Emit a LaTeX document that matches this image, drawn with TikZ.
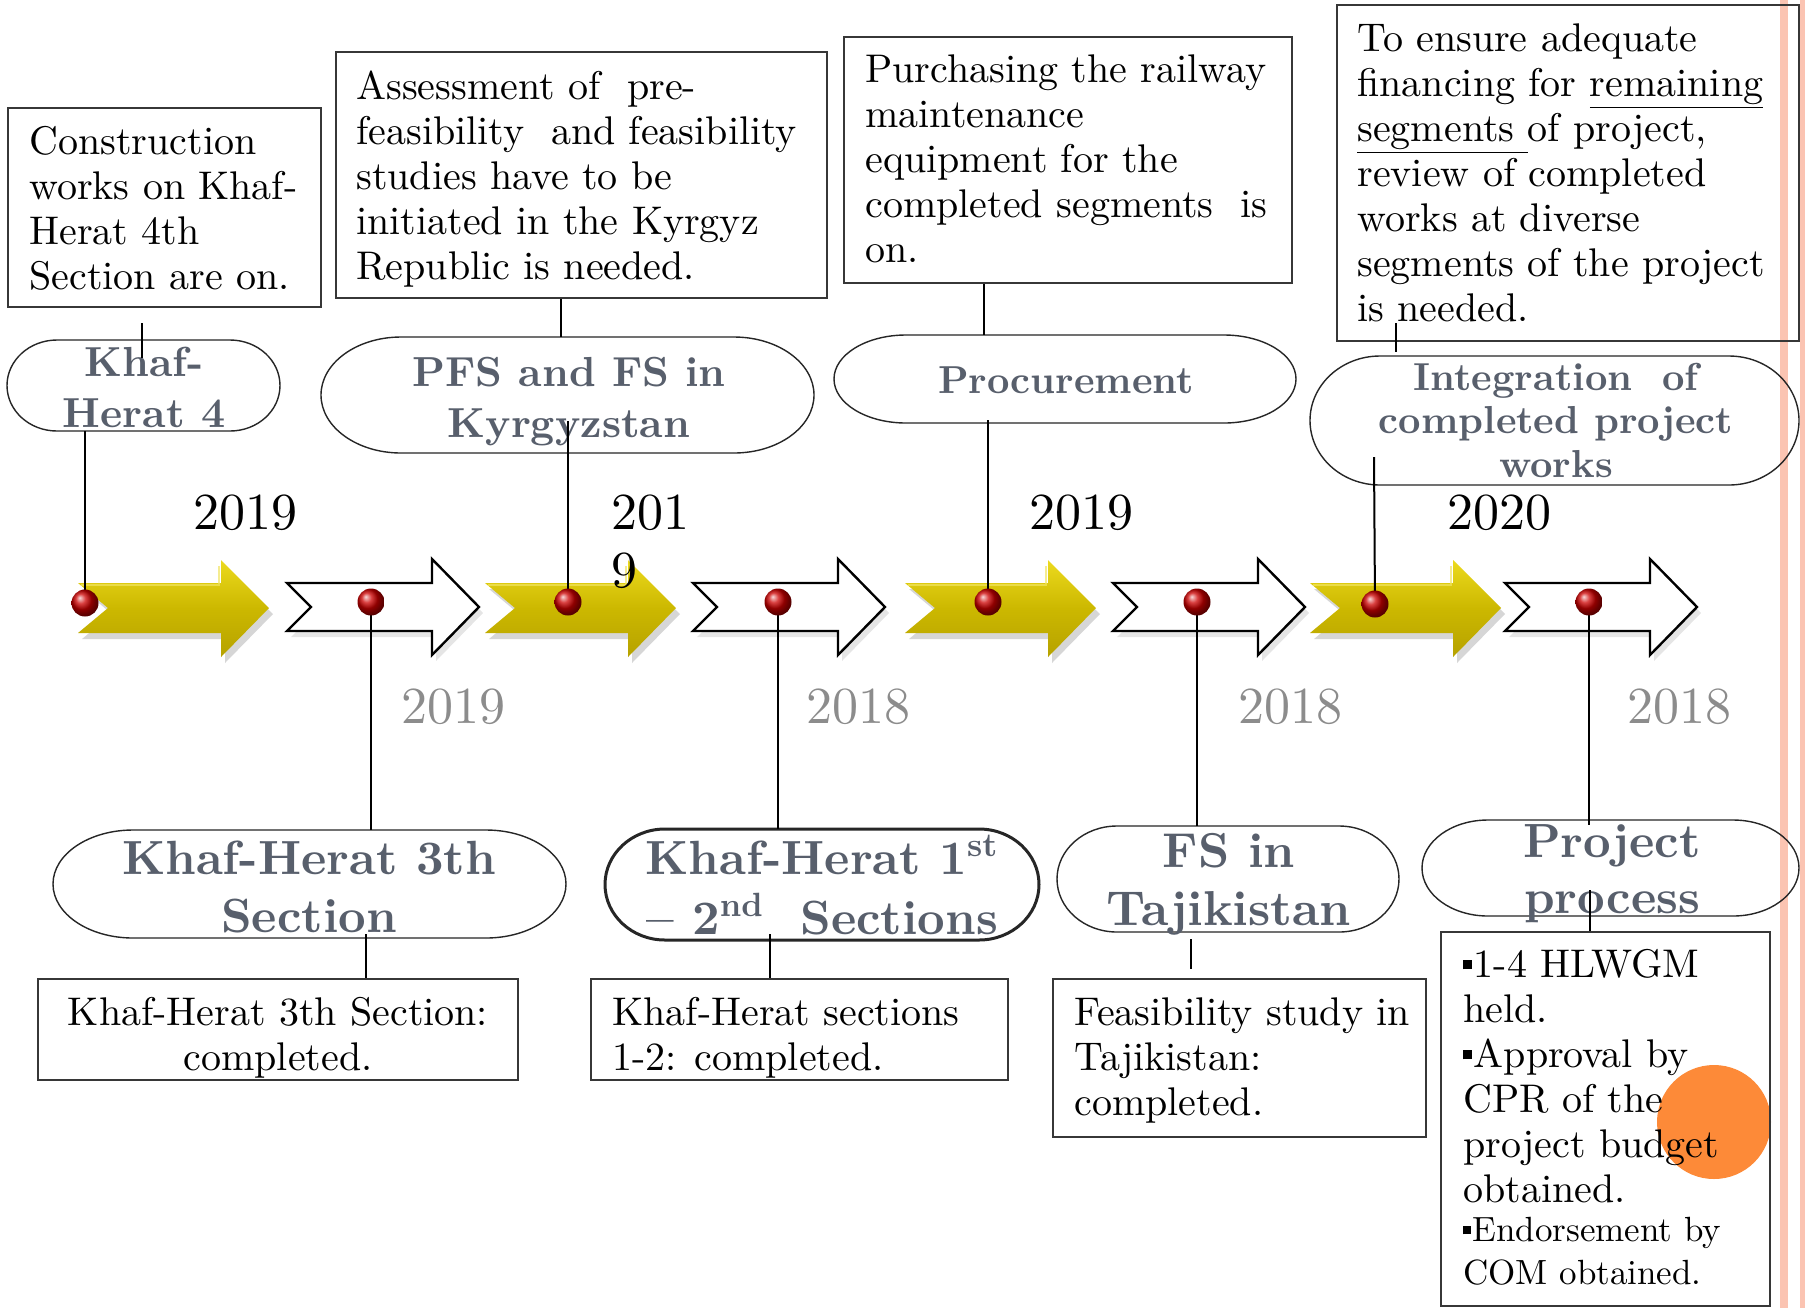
\documentclass[tikz,border=0pt]{standalone}
\usepackage{fontspec}
\setmainfont{lmroman10-regular.otf}[Ligatures=TeX]
\newfontfamily\hdfont{lmroman10-bold.otf}[Ligatures=TeX]
\usetikzlibrary{calc}
\definecolor{ylmain}{RGB}{204,184,0}
\definecolor{yllight}{RGB}{236,218,30}
\definecolor{yldark}{RGB}{182,162,0}
\definecolor{txgray}{RGB}{88,95,108}
\definecolor{yrgray}{RGB}{140,140,140}
\definecolor{pinkband}{RGB}{251,196,178}
\definecolor{orangec}{RGB}{253,138,56}
\definecolor{boxline}{RGB}{55,55,55}
\newcommand\sqb{\rule[0.2em]{0.22em}{0.24em}\hspace{0.04em}}
\newcommand\smallf{\fontsize{17.5}{20}\selectfont}
% stadium with elliptical ends: [style] name cx cy w h rx
\newcommand\stad[7][]{%
 \node[minimum width={(#5)*0.5pt},minimum height={(#6)*0.5pt},inner sep=0pt] (#2) at (#3,#4) {};
 \draw[stadline,#1] ({#3-(#5)/2+(#7)},{#4-(#6)/2}) -- ({#3+(#5)/2-(#7)},{#4-(#6)/2})
   .. controls ({#3+(#5)/2-0.448*(#7)},{#4-(#6)/2}) and ({#3+(#5)/2},{#4-0.276*(#6)}) .. ({#3+(#5)/2},{#4})
   .. controls ({#3+(#5)/2},{#4+0.276*(#6)}) and ({#3+(#5)/2-0.448*(#7)},{#4+(#6)/2}) .. ({#3+(#5)/2-(#7)},{#4+(#6)/2})
   -- ({#3-(#5)/2+(#7)},{#4+(#6)/2})
   .. controls ({#3-(#5)/2+0.448*(#7)},{#4+(#6)/2}) and ({#3-(#5)/2},{#4+0.276*(#6)}) .. ({#3-(#5)/2},{#4})
   .. controls ({#3-(#5)/2},{#4-0.276*(#6)}) and ({#3-(#5)/2+0.448*(#7)},{#4-(#6)/2}) .. ({#3-(#5)/2+(#7)},{#4-(#6)/2}) -- cycle;}
\newcommand\yarr[1]{%
 \begin{scope}[shift={(#1,0)}]
  \fill[black,opacity=0.16] (4,589)--(147,589)--(147,566)--(195,614)--(147,663)--(147,639)--(4,639)--(34,614)--cycle;
  \shade[top color=yllight,bottom color=yldark,middle color=ylmain] (0,583)--(143,583)--(143,560)--(191,608)--(143,657)--(143,633)--(0,633)--(30,608)--cycle;
  \draw[yllight!70!white,line width=0.8pt,opacity=0.7] (3,585)--(141,585)--(141,566);
 \end{scope}}
\newcommand\warr[1]{%
 \begin{scope}[shift={(#1,0)}]
  \fill[black,opacity=0.10] (4,589)--(149,589)--(149,565)--(196,613)--(149,661)--(149,637)--(4,637)--(28,613)--cycle;
  \draw[line width=1.2pt,fill=white,line join=miter] (0,583)--(145,583)--(145,559)--(192,607)--(145,655)--(145,631)--(0,631)--(24,607)--cycle;
 \end{scope}}
\tikzset{
 box/.style={draw=boxline,line width=0.75pt,inner sep=0pt},
 stadline/.style={draw=black!85,line width=0.7pt},
 reg/.style={font=\fontsize{20}{22.5}\selectfont,inner sep=0pt,align=left,anchor=north west},
 conn/.style={draw=black,line width=1pt},
 dotst/.style={circle,inner sep=0pt,minimum size=13.5pt,ball color=red!80!black},
 yrtop/.style={font=\fontsize{26}{29}\selectfont,inner sep=0pt,anchor=base},
 yrbot/.style={font=\fontsize{26}{29}\selectfont,inner sep=0pt,anchor=base,text=yrgray},
}
\begin{document}
\begin{tikzpicture}[x=0.5pt,y=-0.5pt]
\useasboundingbox (0,0) rectangle (1805,1308);
\fill[white] (0,0) rectangle (1805,1308);
% right decoration
\fill[pinkband] (1780,0) rectangle (1788,1308);
\fill[pinkband] (1800,0) rectangle (1805,1308);
% orange circle
\fill[orangec] (1714,1122) circle[radius=57];
% top boxes
\node[box,minimum width=156.5pt,minimum height=99.5pt] (b1) at (164.5,207.5) {};
\node[box,minimum width=245.5pt,minimum height=123pt] (b2) at (581.5,175) {};
\node[box,minimum width=224pt,minimum height=123pt] (b3) at (1068,160) {};
\node[box,minimum width=231pt,minimum height=168pt] (b4) at (1568,173) {};
% bottom boxes
\node[box,minimum width=240pt,minimum height=50.5pt] (l1) at (278,1029.5) {};
\node[box,minimum width=208.5pt,minimum height=50.5pt] (l2) at (799.5,1029.5) {};
\node[box,minimum width=186.5pt,minimum height=79pt] (l3) at (1239.5,1058) {};
\node[box,minimum width=164.5pt,minimum height=187pt] (l4) at (1605.5,1119) {};
% stadiums
\stad{e1}{143.5}{385.5}{273}{91}{50}
\stad{e2}{567.5}{395}{493}{116}{80}
\stad{e3}{1065}{379}{462}{88}{72}
\stad{e4}{1554.5}{420.5}{489}{129}{70}
\stad{f1}{309.5}{884}{513}{108}{80}
\stad[line width=1.5pt]{f2}{822}{884.5}{434}{111}{60}
\stad{f3}{1228}{879}{342}{106}{60}
\stad{f4}{1610.5}{868}{377}{96}{66}
% arrows
\yarr{78}
\warr{287}
\yarr{485}
\warr{693}
\yarr{905}
\warr{1113}
\yarr{1310}
\warr{1505}
% box texts
\node[reg] (t1) at (29,122.5) {\strut Construction\\works on Khaf-\\Herat 4th\\Section are on.};
\node[reg] (t2) at (356,67.5) {\strut Assessment of\ \ pre-\\feasibility\ \ and feasibility\\studies have to be\\initiated in the Kyrgyz\\Republic is needed.};
\node[reg] (t3) at (865,50.5) {\strut Purchasing the railway\\maintenance\\equipment for the\\completed segments\ \ is\\on.};
\node[reg] (t4) at (1357,19.5) {\strut To ensure adequate\\financing for \underline{remaining}\\\underline{segments\ }of project,\\review of completed\\works at diverse\\segments of the project\\is needed.};
\node[reg,align=center,anchor=north] (u1) at (278,993.5) {\strut Khaf-Herat 3th Section:\\completed.};
\node[reg] (u2) at (612,993.5) {\strut Khaf-Herat sections\\1-2: completed.};
\node[reg] (u3) at (1074,993.5) {\strut Feasibility study in\\Tajikistan:\\completed.};
\node[reg] (u4) at (1463,945.5) {\strut\sqb 1-4 HLWGM\\held.\\\sqb Approval by\\CPR of the\\project budget\\obtained.\\[-3pt]\smallf\sqb Endorsement by\\[-1pt]\smallf COM obtained.};
% stadium texts
\node[font=\fontsize{21}{25.5}\selectfont\hdfont,text=txgray,align=center,inner sep=0pt,anchor=north] (s1) at (144,340.3) {\strut Khaf-\\Herat 4};
\node[font=\fontsize{21}{25.5}\selectfont\hdfont,text=txgray,align=center,inner sep=0pt,anchor=north] (s2) at (569,350.3) {\strut PFS and FS in\\Kyrgyzstan};
\node[font=\fontsize{19.5}{22}\selectfont\hdfont,text=txgray,inner sep=0pt,anchor=base] (s3) at (1066,393) {Procurement};
\node[font=\fontsize{19.5}{21.75}\selectfont\hdfont,text=txgray,align=center,inner sep=0pt,anchor=north] (s4) at (1556,359.5) {\strut Integration\ \ of\\completed project\\works};
\node[font=\fontsize{24}{29}\selectfont\hdfont,text=txgray,align=center,inner sep=0pt,anchor=north] (g1) at (309,833.4) {\strut Khaf-Herat 3th\\Section};
\node[font=\fontsize{24}{28}\selectfont\hdfont,text=txgray,align=center,inner sep=0pt,anchor=north] (g2) at (822,834.8) {\strut Khaf-Herat 1\textsuperscript{st}\\\textendash\ 2\textsuperscript{nd}\ \ Sections};
\node[font=\fontsize{24.5}{29}\selectfont\hdfont,text=txgray,align=center,inner sep=0pt,anchor=north] (g3) at (1229,826.4) {\strut FS in\\Tajikistan};
\node[font=\fontsize{24}{28}\selectfont\hdfont,text=txgray,align=center,inner sep=0pt,anchor=north] (g4) at (1612,817.8) {\strut Project\\process};
% years
\node[yrtop] (y1) at (245,529) {2019};
\node[yrtop,anchor=north west,align=left] (y2) at (611,488.4) {\strut 201\\9};
\node[yrtop] (y3) at (1081,529) {2019};
\node[yrtop] (y4) at (1499,529) {2020};
\node[yrbot] (z1) at (453,723) {2019};
\node[yrbot] (z2) at (858,723) {2018};
\node[yrbot] (z3) at (1290,723) {2018};
\node[yrbot] (z4) at (1679,723) {2018};
% dots (positions)
\coordinate (p1) at (85,603);
\coordinate (p2) at (371,602);
\coordinate (p3) at (568,602);
\coordinate (p4) at (778,602);
\coordinate (p5) at (988,602);
\coordinate (p6) at (1197,602);
\coordinate (p7) at (1375,604);
\coordinate (p8) at (1589,602);
% free ends of connectors
\coordinate (c1a) at (142,323); \coordinate (c1b) at (142,358);
\coordinate (c3x) at (561,0);
\coordinate (c4a) at (568,421);
\coordinate (c5x) at (984,0);
\coordinate (c6a) at (988,420);
\coordinate (c7a) at (1396,323); \coordinate (c7b) at (1396,352);
\coordinate (c8a) at (1374,457);
\coordinate (h1a) at (366,934);
\coordinate (h2a) at (770,934);
\coordinate (h3a) at (1191,939); \coordinate (h3b) at (1191,969);
\coordinate (h4a) at (1590,890);
% connectors
\draw[conn] (c1a) -- (c1b);
\draw[conn] (e1.south -| p1) -- (p1);
\draw[conn] (b2.south -| c3x) -- (e2.north -| c3x);
\draw[conn] (c4a) -- (p3);
\draw[conn] (b3.south -| c5x) -- (e3.north -| c5x);
\draw[conn] (c6a) -- (p5);
\draw[conn] (c7a) -- (c7b);
\draw[conn] (c8a) -- (p7);
\draw[conn] (p2) -- (p2 |- f1.north);
\draw[conn] (h1a) -- (l1.north -| h1a);
\draw[conn] (p4) -- (p4 |- f2.north);
\draw[conn] (h2a) -- (l2.north -| h2a);
\draw[conn] (p6) -- (p6 |- f3.north);
\draw[conn] (h3a) -- (h3b);
\draw[conn] (p8) -- ($(p8 |- f4.north)+(0,5)$);
\draw[conn] (h4a) -- (l4.north -| h4a);
% dots
\node[dotst] (d1) at (p1) {};
\node[dotst] (d2) at (p2) {};
\node[dotst] (d3) at (p3) {};
\node[dotst] (d4) at (p4) {};
\node[dotst] (d5) at (p5) {};
\node[dotst] (d6) at (p6) {};
\node[dotst] (d7) at (p7) {};
\node[dotst] (d8) at (p8) {};
\end{tikzpicture}
\end{document}
